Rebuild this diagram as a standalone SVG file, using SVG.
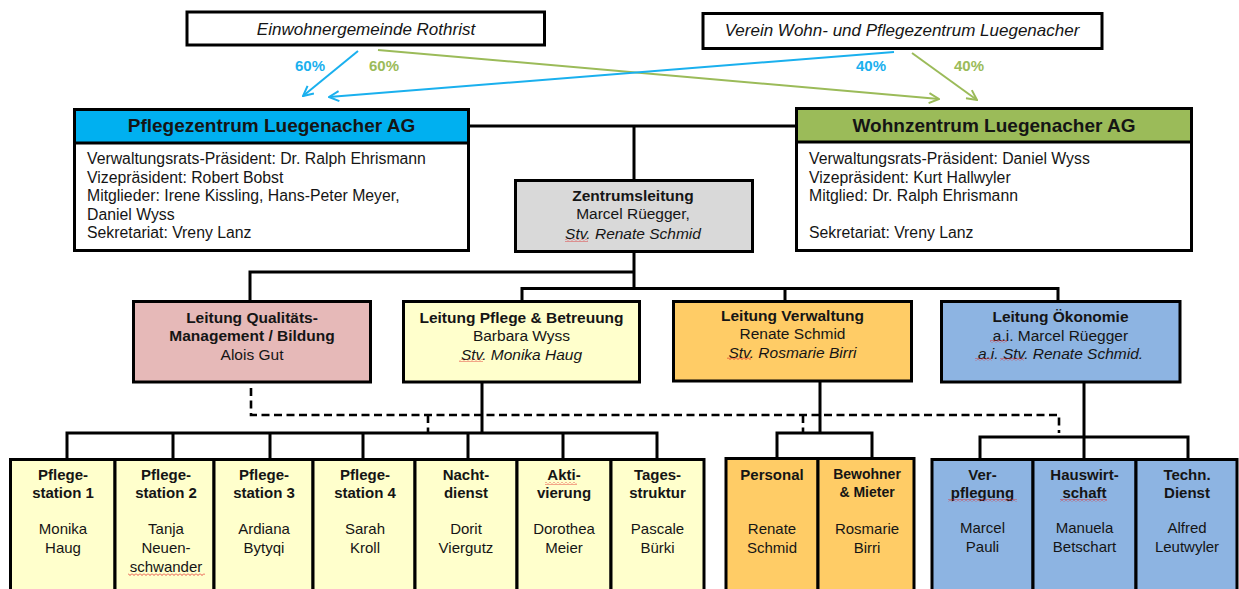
<svg xmlns="http://www.w3.org/2000/svg" width="1239" height="589" viewBox="0 0 1239 589">
<defs>
<style>
text{font-family:"Liberation Sans",Arial,sans-serif;fill:#151515;font-size:15.5px}
.b{font-weight:bold}
.i{font-style:italic}
.c{text-anchor:middle}
.box{stroke:#000;stroke-width:3}
.con{stroke:#000;stroke-width:3;fill:none}
.dash{stroke:#000;stroke-width:2.6;fill:none;stroke-dasharray:8 4.5}
.hd{font-size:19px;font-weight:bold}
.top{font-size:17px;font-style:italic}
.pct{font-size:15px;font-weight:bold}
.bd{font-size:15.8px}
.sm{font-size:15px}
.bl{stroke:#1AB0EE;stroke-width:2;fill:none}
.gr{stroke:#9BBB59;stroke-width:2;fill:none}
.sq{fill:url(#squig)}
.yl{fill:#FFFFCC}
.or{fill:#FFCC66}
.bu{fill:#8DB4E2}
</style>
<marker id="ab" viewBox="0 0 12 12" refX="11" refY="6" markerWidth="12" markerHeight="12" markerUnits="userSpaceOnUse" orient="auto">
<path d="M1,1 L11,6 L1,11" fill="none" stroke="#1AB0EE" stroke-width="2"/>
</marker>
<marker id="ag" viewBox="0 0 12 12" refX="11" refY="6" markerWidth="12" markerHeight="12" markerUnits="userSpaceOnUse" orient="auto">
<path d="M1,1 L11,6 L1,11" fill="none" stroke="#9BBB59" stroke-width="2"/>
</marker>
<pattern id="squig" width="4" height="3" patternUnits="userSpaceOnUse">
<path d="M0,0.5 L2,2.5 L4,0.5" fill="none" stroke="#E02020" stroke-width="0.8"/>
</pattern>
</defs>
<rect width="1239" height="589" fill="#fff"/>

<g id="connectors">
<line class="bl" x1="358" y1="51" x2="303" y2="96" marker-end="url(#ab)"/>
<line class="gr" x1="378" y1="50" x2="939" y2="99" marker-end="url(#ag)"/>
<line class="bl" x1="894" y1="52" x2="329" y2="97" marker-end="url(#ab)"/>
<line class="gr" x1="912" y1="53" x2="977" y2="100" marker-end="url(#ag)"/>
<text class="pct c" x="310" y="70.5" style="fill:#1AB0EE">60%</text>
<text class="pct c" x="384" y="70.5" style="fill:#9BBB59">60%</text>
<text class="pct c" x="871" y="70.5" style="fill:#1AB0EE">40%</text>
<text class="pct c" x="969" y="70.5" style="fill:#9BBB59">40%</text>

<path class="con" d="M469,126 H796 M634,126 V180"/>
<path class="con" d="M634,252 V288.5 M250,272 H634 M250,270.5 V300 M522,288.5 H1058 M522,287 V300 M785,287 V300 M1058,287 V300"/>
<path class="dash" d="M251,388 V415 H1059 V433 M428,415 V432 M803,415 V432"/>
<path class="con" d="M482,383 V433 M67,433 H657 M67,431.5 V459 M173,431.5 V459 M270,431.5 V459 M363,431.5 V459 M468,431.5 V459 M563,431.5 V459 M657,431.5 V459"/>
<path class="con" d="M820,382 V433 M777,433 H872 M777,431.5 V458 M872,431.5 V458"/>
<path class="con" d="M1084,383 V459 M980,437 H1188 M980,435.5 V459 M1188,435.5 V459"/>
</g>

<g id="einwohnergemeinde">
<rect class="box" x="187" y="12" width="357.5" height="33" fill="#fff" stroke-width="3.5"/>
<text class="top c" x="366" y="35">Einwohnergemeinde Rothrist</text>
</g>
<g id="verein">
<rect class="box" x="703" y="13.5" width="399" height="35" fill="#fff" stroke-width="3.5"/>
<text class="top c" x="902" y="35.5">Verein Wohn- und Pflegezentrum Luegenacher</text>
</g>

<g id="pflegezentrum">
<rect class="box" x="74.5" y="109.5" width="394" height="141" fill="#fff"/>
<rect class="box" x="74.5" y="109.5" width="394" height="33.5" fill="#00B0F0"/>
<text class="hd c" x="271.5" y="132">Pflegezentrum Luegenacher AG</text>
<text class="bd" x="87" y="164">Verwaltungsrats-Präsident: Dr. Ralph Ehrismann</text>
<text class="bd" x="87" y="182.5">Vizepräsident: Robert Bobst</text>
<text class="bd" x="87" y="201">Mitglieder: Irene Kissling, Hans-Peter Meyer,</text>
<text class="bd" x="87" y="219.5">Daniel Wyss</text>
<text class="bd" x="87" y="238">Sekretariat: Vreny Lanz</text>
</g>

<g id="wohnzentrum">
<rect class="box" x="796.5" y="108.5" width="395" height="142" fill="#fff"/>
<rect class="box" x="796.5" y="108.5" width="395" height="33.5" fill="#9BBB59"/>
<text class="hd c" x="994" y="131.5">Wohnzentrum Luegenacher AG</text>
<text class="bd" x="809" y="164">Verwaltungsrats-Präsident: Daniel Wyss</text>
<text class="bd" x="809" y="182.5">Vizepräsident: Kurt Hallwyler</text>
<text class="bd" x="809" y="201">Mitglied: Dr. Ralph Ehrismann</text>
<text class="bd" x="809" y="238">Sekretariat: Vreny Lanz</text>
</g>

<g id="zentrumsleitung">
<rect class="box" x="515.5" y="180.5" width="237" height="71" fill="#D9D9D9"/>
<text class="b c" x="633" y="200.5">Zentrumsleitung</text>
<text class="c" x="633" y="218.5">Marcel Rüegger,</text>
<text class="i c" x="633" y="238.5">Stv. Renate Schmid</text>
<rect class="sq" x="565" y="239" width="23" height="3"/>
</g>

<g id="leitung-qualitaet">
<rect class="box" x="133.5" y="301.5" width="237" height="80.5" fill="#E6B9B8"/>
<text class="b c" x="252" y="322.5">Leitung Qualitäts-</text>
<text class="b c" x="252" y="341">Management / Bildung</text>
<text class="c" x="252" y="359.5">Alois Gut</text>
</g>
<g id="leitung-pflege">
<rect class="box yl" x="403.5" y="301.5" width="236" height="80.5"/>
<text class="b c" x="521.5" y="322.5">Leitung Pflege &amp; Betreuung</text>
<text class="c" x="521.5" y="341">Barbara Wyss</text>
<text class="i c" x="521.5" y="359.5">Stv. Monika Haug</text>
<rect class="sq" x="459" y="359" width="24" height="3"/>
</g>
<g id="leitung-verwaltung">
<rect class="box or" x="673.5" y="301.5" width="238" height="79.5"/>
<text class="b c" x="792.5" y="321">Leitung Verwaltung</text>
<text class="c" x="792.5" y="339">Renate Schmid</text>
<text class="i c" x="792.5" y="357.5">Stv. Rosmarie Birri</text>
<rect class="sq" x="727" y="357" width="24" height="3"/>
</g>
<g id="leitung-oekonomie">
<rect class="box bu" x="941.5" y="301.5" width="238.5" height="80.5"/>
<text class="b c" x="1060.5" y="322">Leitung Ökonomie</text>
<text class="c" x="1060.5" y="340.5">a.i. Marcel Rüegger</text>
<text class="i c" x="1060.5" y="358.5">a.i. Stv. Renate Schmid.</text>
<rect class="sq" x="990" y="340" width="17" height="3"/>
<rect class="sq" x="975" y="358" width="17" height="3"/>
<rect class="sq" x="1000" y="358" width="24" height="3"/>
</g>

<g id="pflegestation-1">
<rect class="box yl" x="10.5" y="459.5" width="104.5" height="140"/>
<text class="b c sm" x="63" y="480">Pflege-</text>
<text class="b c sm" x="63" y="498">station 1</text>
<text class="c sm" x="63" y="534">Monika</text>
<text class="c sm" x="63" y="553">Haug</text>
</g>
<g id="pflegestation-2">
<rect class="box yl" x="115" y="459.5" width="99" height="140"/>
<text class="b c sm" x="166" y="480">Pflege-</text>
<text class="b c sm" x="166" y="498">station 2</text>
<text class="c sm" x="166" y="534">Tanja</text>
<text class="c sm" x="166" y="553">Neuen-</text>
<text class="c sm" x="166" y="572">schwander</text>
<rect class="sq" x="128" y="573" width="77" height="3"/>
</g>
<g id="pflegestation-3">
<rect class="box yl" x="214" y="459.5" width="99" height="140"/>
<text class="b c sm" x="264" y="480">Pflege-</text>
<text class="b c sm" x="264" y="498">station 3</text>
<text class="c sm" x="264" y="534">Ardiana</text>
<text class="c sm" x="264" y="553">Bytyqi</text>
</g>
<g id="pflegestation-4">
<rect class="box yl" x="313" y="459.5" width="102" height="140"/>
<text class="b c sm" x="365" y="480">Pflege-</text>
<text class="b c sm" x="365" y="498">station 4</text>
<text class="c sm" x="365" y="534">Sarah</text>
<text class="c sm" x="365" y="553">Kroll</text>
</g>
<g id="nachtdienst">
<rect class="box yl" x="415" y="459.5" width="102" height="140"/>
<text class="b c sm" x="466" y="480">Nacht-</text>
<text class="b c sm" x="466" y="498">dienst</text>
<text class="c sm" x="466" y="534">Dorit</text>
<text class="c sm" x="466" y="553">Viergutz</text>
</g>
<g id="aktivierung">
<rect class="box yl" x="517" y="459.5" width="94" height="140"/>
<text class="b c sm" x="564" y="480">Akti-</text>
<text class="b c sm" x="564" y="498">vierung</text>
<text class="c sm" x="564" y="534">Dorothea</text>
<text class="c sm" x="564" y="553">Meier</text>
<rect class="sq" x="545" y="482" width="32" height="3"/>
</g>
<g id="tagesstruktur">
<rect class="box yl" x="611" y="459.5" width="93" height="140"/>
<text class="b c sm" x="657.5" y="480">Tages-</text>
<text class="b c sm" x="657.5" y="498">struktur</text>
<text class="c sm" x="657.5" y="534">Pascale</text>
<text class="c sm" x="657.5" y="553">Bürki</text>
</g>
<g id="personal">
<rect class="box or" x="726" y="458.5" width="92" height="141"/>
<text class="b c sm" x="772" y="480">Personal</text>
<text class="c sm" x="772" y="534">Renate</text>
<text class="c sm" x="772" y="553">Schmid</text>
</g>
<g id="bewohner">
<rect class="box or" x="818" y="458.5" width="96" height="141"/>
<text class="b c" x="867" y="479" style="font-size:14px">Bewohner</text>
<text class="b c" x="867" y="497" style="font-size:14px">&amp; Mieter</text>
<text class="c sm" x="867" y="534">Rosmarie</text>
<text class="c sm" x="867" y="553">Birri</text>
</g>
<g id="verpflegung">
<rect class="box bu" x="932" y="459.5" width="101" height="140"/>
<text class="b c sm" x="982.5" y="479.5">Ver-</text>
<text class="b c sm" x="982.5" y="497.5">pflegung</text>
<text class="c sm" x="982.5" y="533">Marcel</text>
<text class="c sm" x="982.5" y="552">Pauli</text>
<rect class="sq" x="948" y="499" width="69" height="3"/>
</g>
<g id="hauswirtschaft">
<rect class="box bu" x="1033" y="459.5" width="103" height="140"/>
<text class="b c sm" x="1084.5" y="479.5">Hauswirt-</text>
<text class="b c sm" x="1084.5" y="497.5">schaft</text>
<text class="c sm" x="1084.5" y="533">Manuela</text>
<text class="c sm" x="1084.5" y="552">Betschart</text>
<rect class="sq" x="1060" y="499" width="47" height="3"/>
</g>
<g id="techn-dienst">
<rect class="box bu" x="1136" y="459.5" width="101" height="140"/>
<text class="b c sm" x="1187" y="479.5">Techn.</text>
<text class="b c sm" x="1187" y="497.5">Dienst</text>
<text class="c sm" x="1187" y="533">Alfred</text>
<text class="c sm" x="1187" y="552">Leutwyler</text>
</g>
</svg>
